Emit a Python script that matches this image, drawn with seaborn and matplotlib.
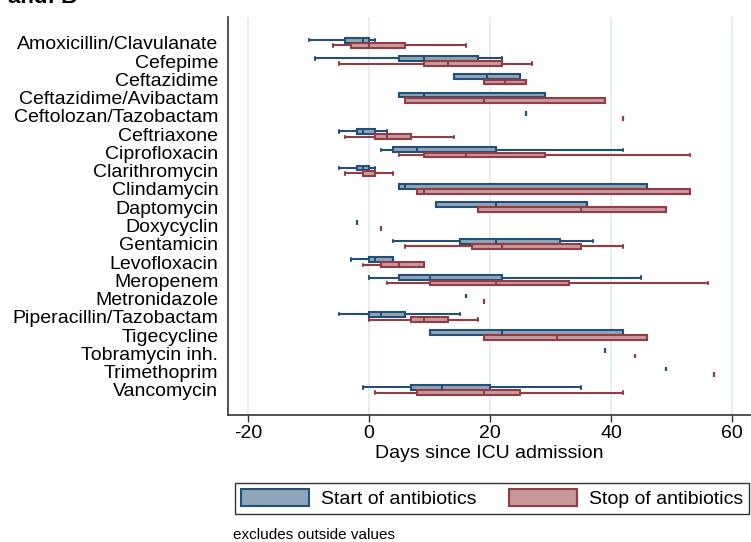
import numpy as np
import pandas as pd
import seaborn as sns
import matplotlib.pyplot as plt
import matplotlib.patches as mpatches

# drugs in display order
drugs = ["Amoxicillin/Clavulanate", "Cefepime", "Ceftazidime", "Ceftazidime/Avibactam",
         "Ceftolozan/Tazobactam", "Ceftriaxone", "Ciprofloxacin", "Clarithromycin",
         "Clindamycin", "Daptomycin", "Doxycyclin", "Gentamicin", "Levofloxacin",
         "Meropenem", "Metronidazole", "Piperacillin/Tazobactam", "Tigecycline",
         "Tobramycin inh.", "Trimethoprim", "Vancomycin"]

# start of antibiotics: lower whisker, q1, median, q3, upper whisker (days)
start_lo  = [-10, -9, 14,  5, 26, -5,  2, -5,  5, 11, -2,  4,   -3,  0, 16, -5, 10, 39, 49, -1]
start_q1  = [-4,   5, 14,  5, 26, -2,  4, -2,  5, 11, -2, 15,    0,  5, 16,  0, 10, 39, 49,  7]
start_med = [-1,   9, 19.5, 9, 26, -1,  8, -1,  6, 21, -2, 21,   1, 10, 16,  2, 22, 39, 49, 12]
start_q3  = [0,   18, 25, 29, 26,  1, 21,  0, 46, 36, -2, 31.5, 4, 22, 16,  6, 42, 39, 49, 20]
start_hi  = [1,   22, 25, 29, 26,  3, 42,  1, 46, 36, -2, 37,   4, 45, 16, 15, 42, 39, 49, 35]

# stop of antibiotics
stop_lo  = [-6,  -5, 19,  6, 42, -4,  5, -4,  8, 18, 2,  6, -1,  3, 19,  0, 19, 44, 57,  1]
stop_q1  = [-3,   9, 19,  6, 42,  1,  9, -1,  8, 18, 2, 17,  2, 10, 19,  7, 19, 44, 57,  8]
stop_med = [0,   13, 22.5, 19, 42, 3, 16, -1,  9, 35, 2, 22,  5, 21, 19,  9, 31, 44, 57, 19]
stop_q3  = [6,   22, 26, 39, 42,  7, 29,  1, 53, 49, 2, 35,  9, 33, 19, 13, 46, 44, 57, 25]
stop_hi  = [16,  27, 26, 39, 42, 14, 53,  4, 53, 49, 2, 42,  9, 56, 19, 18, 46, 44, 57, 42]

events = ["Start of antibiotics", "Stop of antibiotics"]

rows = []
for ev, stats in zip(events, [(start_lo, start_q1, start_med, start_q3, start_hi),
                              (stop_lo, stop_q1, stop_med, stop_q3, stop_hi)]):
    for i, d in enumerate(drugs):
        for s in stats:
            rows.append({"drug": d, "event": ev, "days": s[i]})
df = pd.DataFrame(rows)

sns.set_theme(style="white")
plt.rcParams['font.family'] = ['Liberation Sans', 'DejaVu Sans']
plt.rcParams['axes.unicode_minus'] = False
plt.rcParams['text.color'] = 'black'
plt.rcParams['axes.labelcolor'] = 'black'
plt.rcParams['xtick.color'] = 'black'
plt.rcParams['ytick.color'] = 'black'

fills = ["#8ea5ba", "#c8979b"]
edges = ["#21507b", "#973a41"]

fig = plt.figure(figsize=(7.51, 5.42), dpi=100)
ax = fig.add_axes([228/751, 1 - 415/542, 1 - 228/751, (415 - 17)/542])

sns.boxplot(data=df, x="days", y="drug", hue="event", order=drugs, hue_order=events,
            orient="h", whis=(0, 100), showfliers=False, width=0.58, gap=0.1,
            palette=fills, linewidth=1.5, legend=False, ax=ax)

# recolour outlines per group
for cont, ec in zip(ax.containers, edges):
    for b in cont.boxes:
        b.set_edgecolor(ec)
    for ln in list(cont.medians) + list(cont.whiskers) + list(cont.caps):
        ln.set_color(ec)

ax.set_xlim(-23.3, 63.1)
ax.set_ylim(20.37, -1.41)
ax.set_xticks([-20, 0, 20, 40, 60])
ax.grid(axis="x", color="#e7eef1", linewidth=1.5)
ax.set_axisbelow(True)
ax.set_xlabel("Days since ICU admission", fontsize=14, labelpad=2)
ax.set_ylabel("")
ax.tick_params(axis="x", labelsize=14, length=5, width=1, color="#333333", pad=2, bottom=True)
ax.tick_params(axis="y", labelsize=14, length=0, pad=7)
for s in ["top", "right"]:
    ax.spines[s].set_visible(False)
for s in ["left", "bottom"]:
    ax.spines[s].set_color("#333333")
    ax.spines[s].set_linewidth(1.2)

handles = [mpatches.Patch(facecolor=f, edgecolor=e, linewidth=1.5) for f, e in zip(fills, edges)]
leg = fig.legend(handles, events, loc="center", mode="expand", ncol=2,
                 bbox_to_anchor=(235/751, 1 - 516/542, 514/751, 35/542),
                 fontsize=14, frameon=True, fancybox=False, edgecolor="black",
                 handlelength=3.5, handleheight=1.0, handletextpad=0.6, borderpad=0.3,
                 borderaxespad=0)
leg.get_frame().set_linewidth(1.0)

fig.text(233/751, 1 - 535/542, "excludes outside values", fontsize=11, va="center")
# title only partly visible at the top edge, as in the source figure
fig.text(0.01, 1 - 3/542, "and: B", fontsize=16, fontweight="bold", va="baseline")

fig.savefig("out.png", dpi=100)
